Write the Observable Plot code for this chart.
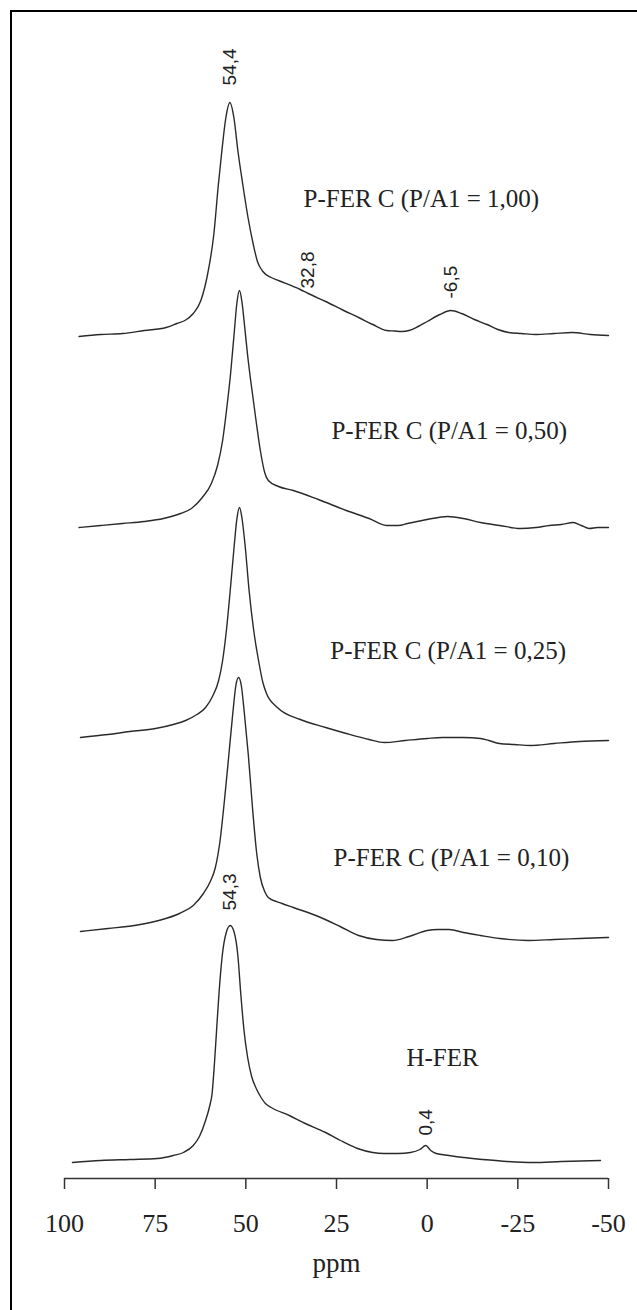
<!DOCTYPE html>
<html>
<head>
<meta charset="utf-8">
<script src="https://cdn.jsdelivr.net/npm/d3@7"></script>
<script src="https://cdn.jsdelivr.net/npm/@observablehq/plot@0.6"></script>
<style>
  html, body { margin: 0; padding: 0; background: #fff; width: 637px; height: 1310px; overflow: hidden; }
  #frame { position: absolute; left: 10px; top: 10px; width: 700px; height: 1400px;
           border-left: 2px solid #000; border-top: 2px solid #000; box-sizing: border-box; }
  #chart { position: absolute; left: 0; top: 0; }
</style>
</head>
<body>
<div id="frame"></div>
<div id="chart"></div>
<script>
// 31P MAS NMR spectra of the ferrierite samples, stacked top to bottom.
const sampleNames = [
  "P-FER C (P/A1 = 1,00)",
  "P-FER C (P/A1 = 0,50)",
  "P-FER C (P/A1 = 0,25)",
  "P-FER C (P/A1 = 0,10)",
  "H-FER"
];

// vertical stacking offset of each spectrum (intensity units)
const stackOffset = [843, 651, 438, 243, 18];

// [chemical shift (ppm), intensity]
const specP100 = [
  [96,-1],[90,1],[84,2],[78,5],[72,8],[69,12],[66.8,15],[64.5,22],[62.4,35],[60.5,62],
  [58.8,102],[57.6,150],[56.6,185],[55.5,218],[54.4,233],[53.3,218],[52.2,185],[50.8,150],
  [49.4,118],[48,92],[46.8,74],[45.3,64],[43,58],[41,55],[35,46],[32.8,42],[28,34],[23,25],
  [18.9,18],[15,11],[11.2,5],[9,4.5],[7,4],[5,5],[2.5,9],[0,14],[-3.5,21],[-6.5,25],[-9.5,22],
  [-13,16],[-16.5,11],[-19.5,6],[-22.5,3],[-26,2],[-30,1],[-35,2],[-40,3],[-45,1],[-50,0]
];
const specP050 = [
  [96,0],[90,2],[84,4],[78,6],[72.7,9],[68,14],[65,19],[62,30],[59.5,44],[57.8,62],
  [56.4,87],[55.3,118],[54.2,154],[53.2,195],[52.45,225],[51.75,237],[51.05,225],[50.3,200],
  [49.5,172],[48.7,148],[47.3,110],[46,77],[44.8,55],[43.8,47],[41,41],[36.9,37],[30,28],
  [22.3,17],[16,9],[11.2,2],[8,2],[5.4,4],[0,8],[-5.6,11],[-10,9],[-14.7,5],[-20,2],
  [-25.7,-1],[-30,0],[-33.7,2],[-37,3],[-40.3,5],[-42.5,2],[-44.7,-1],[-47,0],[-50,0]
];
const specP025 = [
  [95.6,3],[88,6],[82,9],[74.9,12],[70,16],[66.6,20],[63.5,26],[61.1,33],[59.2,44],[57.5,60],
  [56.4,80],[55.3,112],[54.3,150],[53.2,195],[52.45,222],[51.75,233],[51.05,222],[50.2,195],
  [49.1,150],[47.9,112],[46.5,80],[45.3,58],[44.3,47],[41.3,33],[35,21],[28,13],[22.3,7],
  [16,1],[11.8,-2],[6,0],[0,2],[-4.2,3],[-10,3],[-14.7,2],[-17,0],[-19.9,-3],[-24,-4],
  [-28.5,-5],[-35,-3],[-42,-1],[-50,0]
];
const specP010 = [
  [95.6,4],[88,7],[80.7,10],[74,15],[68.3,22],[64.5,30],[61.7,42],[59.8,54],[58.4,68],
  [57.1,95],[55.9,135],[54.7,180],[53.6,222],[52.75,250],[52,258],[51.25,250],[50.4,222],
  [49.3,180],[48.1,125],[47,82],[46,58],[44.8,44],[43.8,38],[40,32],[36.9,28],[30,19],
  [24,9],[18.9,0],[14,-4],[9.6,-5],[5,-1],[0,5],[-3,6],[-6.1,6],[-10,3],[-14.7,0],
  [-20,-3],[-27.9,-5],[-35,-4],[-42,-3],[-50,-2]
];
const specHFER = [
  [97.8,-2],[90,0],[82,1],[74.4,2],[70,5],[67.2,8],[64.5,15],[62.8,24],[61.1,40],[60,54],
  [59.3,67],[58.6,100],[58,134],[57.4,167],[56.5,205],[55.4,228],[54.3,235],[53.2,228],
  [52.2,205],[51.4,167],[50.5,130],[49.5,103],[48.4,84],[47,71],[45.8,63],[44.6,57],
  [43,53],[38,45],[33.6,37],[28,28],[23.9,20],[19.2,12],[15,8],[12,7],[8,7],
  [4.6,8],[2,11],[0.4,15],[-1,10],[-2.5,7],[-6,5],[-10,3],[-15.5,1],[-22,-1],[-29.3,-2],
  [-37,-1],[-47.8,0]
];
const spectra = [specP100, specP050, specP025, specP010, specHFER];

// annotated signals: spectrum index and chemical shift (ppm)
const peakSample = [0, 0, 0, 4, 4];
const peakPpm = [54.4, 32.8, -6.5, 54.3, 0.4];

const xTicks = [100, 75, 50, 25, 0, -25, -50];

// ---- layout of the annotations ----
const nameLabelPpm = [34.1, 26.4, 26.7, 25.8, 5.7];   // where each sample name starts
const nameLabelLift = [137, 97, 90, 78, 103];        // height of the name above its baseline
const peakLabelGap = [17, 5, 12, 15, 10];            // space between signal and its label

// linear interpolation of a spectrum at a given shift
function intensityAt(pts, ppm) {
  for (let k = 0; k < pts.length - 1; k++) {
    const [p0, v0] = pts[k], [p1, v1] = pts[k + 1];
    if (ppm <= p0 && ppm >= p1) {
      const t = p0 === p1 ? 0 : (p0 - ppm) / (p0 - p1);
      return v0 + t * (v1 - v0);
    }
  }
  return 0;
}

const rows = spectra.flatMap((pts, i) =>
  pts.map(([ppm, v]) => ({sample: sampleNames[i], ppm, y: stackOffset[i] + v}))
);

const nameRows = sampleNames.map((name, i) => ({
  text: name, ppm: nameLabelPpm[i], y: stackOffset[i] + nameLabelLift[i]
}));

const peakRows = peakPpm.map((ppm, j) => {
  const i = peakSample[j];
  return {
    ppm,
    y: stackOffset[i] + intensityAt(spectra[i], ppm) + peakLabelGap[j],
    text: ppm.toFixed(1).replace(".", ",")
  };
});

const chart = Plot.plot({
  width: 637,
  height: 1300,
  marginLeft: 64,
  marginRight: 29,
  marginTop: 0,
  marginBottom: 122,
  x: {domain: [100, -50]},
  y: {domain: [0, 1178], axis: null},
  style: {
    fontFamily: "'Liberation Serif', 'Times New Roman', serif",
    color: "#222",
    background: "transparent",
    overflow: "visible"
  },
  marks: [
    Plot.ruleY([0], {stroke: "#333", strokeWidth: 1.5}),
    Plot.axisX({
      ticks: xTicks,
      tickSize: 11,
      tickPadding: 24,
      tickFormat: d => String(d),
      fontSize: 26,
      label: null,
      stroke: "#333",
      strokeWidth: 1.5
    }),
    Plot.text(["ppm"], {x: 25, frameAnchor: "bottom", dy: 85, fontSize: 27, lineAnchor: "middle", fill: "#222"}),
    Plot.line(rows, {
      x: "ppm", y: "y", z: "sample",
      curve: "monotone-x",
      stroke: "#2a2a2a", strokeWidth: 1.4
    }),
    Plot.text(nameRows, {
      x: "ppm", y: "y", text: "text",
      textAnchor: "start", lineAnchor: "middle",
      fontSize: 25, fill: "#222"
    }),
    Plot.text(peakRows, {
      x: "ppm", y: "y", text: "text",
      rotate: -90, textAnchor: "start", lineAnchor: "middle",
      fontFamily: "'Liberation Sans', Arial, sans-serif",
      fontSize: 19, fill: "#222"
    })
  ]
});

document.getElementById("chart").append(chart);
</script>
</body>
</html>
